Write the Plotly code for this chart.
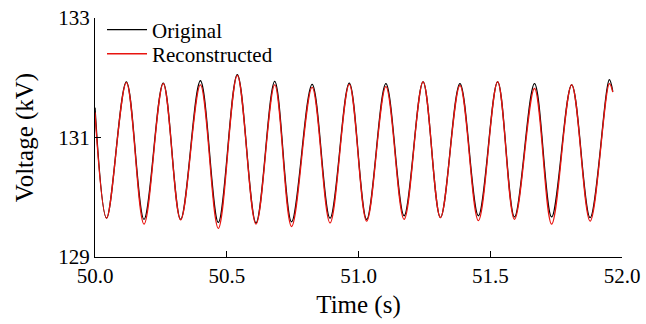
import plotly.graph_objects as go

# Time (s) of read extrema
time_orig = [50.000, 50.044, 50.119, 50.186, 50.259, 50.325, 50.400, 50.468, 50.540, 50.611,
             50.682, 50.746, 50.824, 50.892, 50.965, 51.031, 51.104, 51.173, 51.245, 51.311,
             51.385, 51.455, 51.528, 51.592, 51.668, 51.733, 51.809, 51.879, 51.952, 51.965]
volt_orig = [131.50, 129.65, 131.93, 129.63, 131.91, 129.63, 131.95, 129.58, 132.05, 129.57,
             131.94, 129.59, 131.89, 129.65, 131.91, 129.63, 131.90, 129.69, 131.93, 129.66,
             131.90, 129.69, 131.93, 129.67, 131.90, 129.67, 131.88, 129.66, 131.97, 131.77]

time_rec = [50.000, 50.044, 50.119, 50.186, 50.259, 50.325, 50.400, 50.468, 50.540, 50.611,
            50.682, 50.746, 50.824, 50.892, 50.965, 51.031, 51.104, 51.173, 51.245, 51.311,
            51.385, 51.455, 51.528, 51.592, 51.668, 51.733, 51.809, 51.879, 51.952, 51.965]
volt_rec = [131.42, 129.65, 131.92, 129.55, 131.90, 129.62, 131.88, 129.48, 132.04, 129.55,
            131.88, 129.51, 131.84, 129.57, 131.89, 129.60, 131.85, 129.63, 131.93, 129.66,
            131.87, 129.61, 131.93, 129.63, 131.82, 129.55, 131.88, 129.60, 131.90, 131.76]

x_ticks = [50.0, 50.5, 51.0, 51.5, 52.0]
x_tick_text = ["50.0", "50.5", "51.0", "51.5", "52.0"]
y_ticks = [129, 131, 133]

FONT = "Liberation Serif, Times New Roman, serif"

fig = go.Figure()
fig.add_trace(go.Scatter(x=time_orig, y=volt_orig, mode="lines", name="Original", legend="legend",
                         line=dict(color="#000000", width=1.3, shape="spline", smoothing=1.0)))
fig.add_trace(go.Scatter(x=time_rec, y=volt_rec, mode="lines", name="Reconstructed", legend="legend2",
                         line=dict(color="#e8140f", width=1.3, shape="spline", smoothing=1.0)))

leg_common = dict(xanchor="left", yanchor="middle", bgcolor="rgba(0,0,0,0)",
                  font=dict(family=FONT, size=21), itemwidth=40)

fig.update_layout(
    width=646, height=324,
    margin=dict(l=95, r=24, t=18, b=67, autoexpand=False),
    paper_bgcolor="white", plot_bgcolor="white",
    font=dict(family=FONT, size=21, color="black"),
    showlegend=True,
    legend=dict(x=0.0133, y=0.950, **leg_common),
    legend2=dict(x=0.0133, y=0.849, **leg_common),
    xaxis=dict(range=[50, 52], tickvals=x_ticks, ticktext=x_tick_text, automargin=False,
               showline=True, linecolor="black", linewidth=1.3,
               ticks="inside", ticklen=6, tickcolor="black", tickwidth=1.3,
               showgrid=False, zeroline=False,
               title=dict(text="Time (s)", standoff=8)),
    yaxis=dict(range=[129, 133], tickvals=y_ticks, automargin=False,
               showline=True, linecolor="black", linewidth=1.3,
               ticks="inside", ticklen=6, tickcolor="black", tickwidth=1.3,
               showgrid=False, zeroline=False,
               title=dict(text="Voltage (kV)", standoff=17)),
)

fig.write_html("out.html", config={"displayModeBar": False},
               post_script="document.body.style.margin='0';")
